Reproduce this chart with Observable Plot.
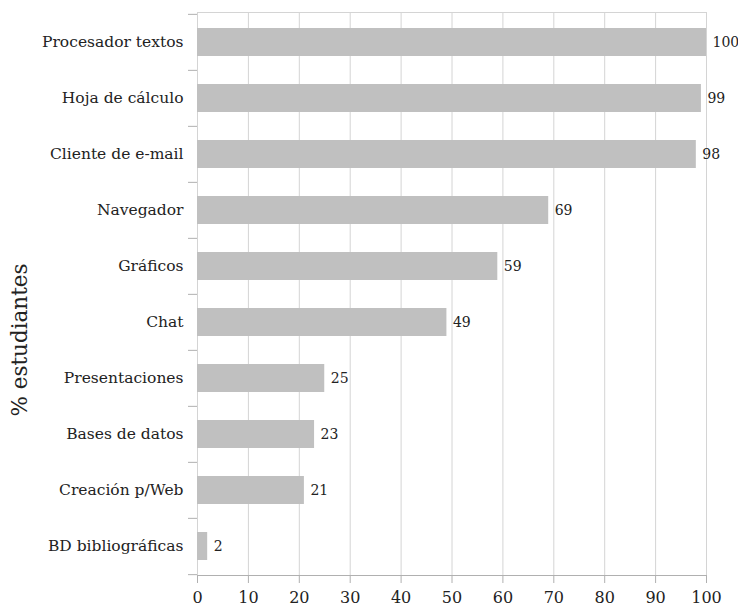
<!DOCTYPE html>
<html><head><meta charset="utf-8">
<script src="https://cdn.jsdelivr.net/npm/d3@7"></script>
<script src="https://cdn.jsdelivr.net/npm/@observablehq/plot@0.6"></script>
<style>body{margin:0;background:#fff}</style>
</head><body><div id="chart"></div>
<script>
const categories = ["Procesador textos","Hoja de cálculo","Cliente de e-mail","Navegador","Gráficos","Chat","Presentaciones","Bases de datos","Creación p/Web","BD bibliográficas"];
const values = [100,99,98,69,59,49,25,23,21,2];
const xTicks = [0,10,20,30,40,50,60,70,80,90,100];
const yLabel = "% estudiantes";

const data = categories.map((c,i)=>({cat:c, value: values[i]}));
const W=738,H=610, mt=12, mb=35, ml=197, mr=32;
const step = (H-mt-mb)/categories.length;
const font = "DejaVu Serif";
const chart = Plot.plot({
  width:W, height:H, marginTop:mt, marginBottom:mb, marginLeft:ml, marginRight:mr,
  style:{fontFamily:font, background:"#fff", color:"#222"},
  x:{domain:[0,100]},
  y:{domain:categories, paddingInner:0.5, paddingOuter:0.25},
  marks:[
    Plot.gridX(xTicks,{stroke:"#d4d4d4", strokeOpacity:1}),
    Plot.barX(data,{y:"cat", x:"value", fill:"#c0c0c0"}),
    Plot.text(data,{y:"cat", x:"value", text:d=>String(d.value), textAnchor:"start", dx:6, fontSize:14, fill:"#222"}),
    Plot.axisY({tickSize:0, tickPadding:14, fontSize:15.5, label:null}),
    Plot.axisY({tickSize:9, tickFormat:()=>"", dy:-step/2, label:null, stroke:"#b0b0b0"}),
    Plot.axisY([categories[categories.length-1]],{tickSize:9, tickFormat:()=>"", dy:step/2, label:null, stroke:"#b0b0b0"}),
    Plot.frame({anchor:"top", stroke:"#d4d4d4"}),
    Plot.frame({anchor:"bottom", stroke:"#b0b0b0"}),
    Plot.axisX(xTicks,{tickSize:8, tickPadding:8, fontSize:16, label:null, stroke:"#b0b0b0"}),
    Plot.text([yLabel],{frameAnchor:"left", textAnchor:"middle", rotate:-90, dx:-177, dy:46, fontSize:21.5, fill:"#222"})
  ]
});
document.getElementById("chart").append(chart);
</script>
</body></html>
